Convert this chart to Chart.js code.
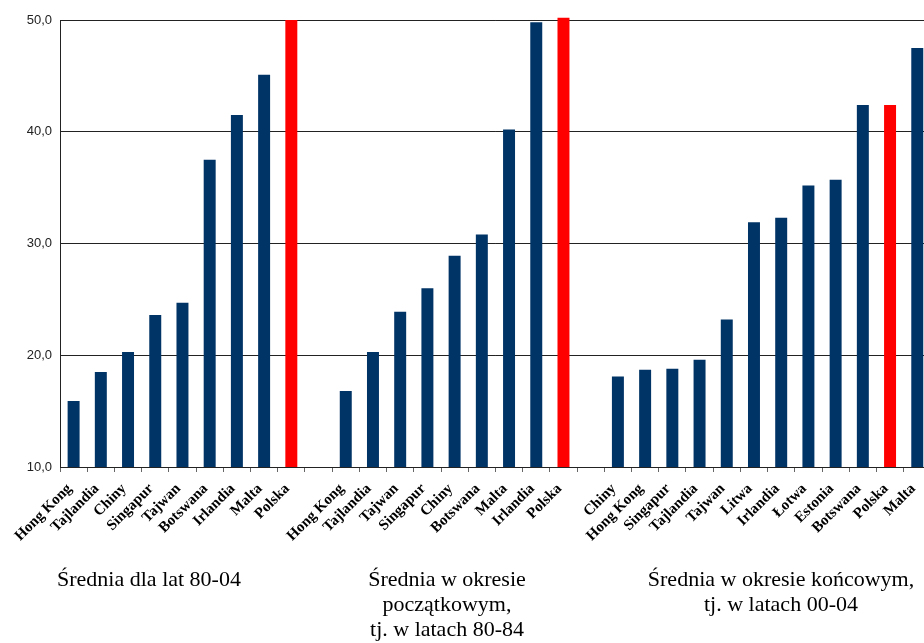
<!DOCTYPE html>
<html lang="pl">
<head>
<meta charset="utf-8">
<title>Średnie wartości – porównanie krajów</title>
<script src="https://cdn.jsdelivr.net/npm/chart.js@4/dist/chart.umd.min.js"></script>
<style>
  html, body { margin: 0; padding: 0; background: #fff; }
  #wrap { position: relative; width: 924px; height: 643px; overflow: hidden; }
  #chart { position: absolute; left: 0; top: 0; }
  .caption {
    position: absolute;
    font-family: "Liberation Serif", "Times New Roman", serif;
    font-size: 22px;
    line-height: 25px;
    color: #000;
    text-align: center;
    white-space: nowrap;
    transform: translateX(-50%);
  }
</style>
</head>
<body>
<div id="wrap">
  <canvas id="chart" width="938" height="643"></canvas>
  <div class="caption" style="left:149px; top:566px;">Średnia dla lat 80-04</div>
  <div class="caption" style="left:447px; top:566px;">Średnia w okresie<br>początkowym,<br>tj. w latach 80-84</div>
  <div class="caption" style="left:781px; top:566px;">Średnia w okresie końcowym,<br>tj. w latach 00-04</div>
</div>
<script>
// Średnia dla lat 80-04
const avgAllLabels = ['Hong Kong', 'Tajlandia', 'Chiny', 'Singapur', 'Tajwan', 'Botswana', 'Irlandia', 'Malta', 'Polska'];
const avgAllValues = [15.9, 18.5, 20.3, 23.6, 24.7, 37.5, 41.5, 45.1, 50.0];

// Średnia w okresie początkowym (80-84)
const avgStartLabels = ['Hong Kong', 'Tajlandia', 'Tajwan', 'Singapur', 'Chiny', 'Botswana', 'Malta', 'Irlandia', 'Polska'];
const avgStartValues = [16.8, 20.3, 23.9, 26.0, 28.9, 30.8, 40.2, 49.8, 50.2];

// Średnia w okresie końcowym (00-04)
const avgEndLabels = ['Chiny', 'Hong Kong', 'Singapur', 'Tajlandia', 'Tajwan', 'Litwa', 'Irlandia', 'Łotwa', 'Estonia', 'Botswana', 'Polska', 'Malta'];
const avgEndValues = [18.1, 18.7, 18.8, 19.6, 23.2, 31.9, 32.3, 35.2, 35.7, 42.4, 42.4, 47.5];

// Value axis
const yMin = 10;
const yMax = 50;
const yStep = 10;

// One category axis; an empty slot separates the three groups
const labels = [...avgAllLabels, '', ...avgStartLabels, '', ...avgEndLabels];
const values = [...avgAllValues, null, ...avgStartValues, null, ...avgEndValues];

const NAVY = '#003366';
const RED = '#ff0000';
const colors = labels.map(l => (l === 'Polska' ? RED : NAVY));

new Chart(document.getElementById('chart'), {
  type: 'bar',
  data: {
    labels: labels,
    datasets: [{
      data: values,
      backgroundColor: colors,
      borderWidth: 0,
      categoryPercentage: 1.0,
      barPercentage: 0.44,
      // let bars slightly above the top line stay visible, clip everything else
      clip: { left: 0, top: 4, right: 10, bottom: 0 }
    }]
  },
  options: {
    responsive: false,
    animation: false,
    events: [],
    layout: { padding: { top: 20, right: 0, left: 0, bottom: 0 } },
    plugins: {
      legend: { display: false },
      tooltip: { enabled: false }
    },
    scales: {
      x: {
        offset: true,
        grid: {
          offset: true,
          drawOnChartArea: false,
          drawTicks: true,
          tickLength: 5,
          color: '#666'
        },
        border: { display: true, color: '#222', width: 1 },
        ticks: {
          autoSkip: false,
          minRotation: 45,
          maxRotation: 45,
          padding: 8,
          labelOffset: -4,
          color: '#000',
          font: { family: '"Liberation Serif", "Times New Roman", serif', size: 15, weight: 'bold' }
        },
        afterFit: s => { s.height = 176; }
      },
      y: {
        min: yMin,
        max: yMax,
        ticks: {
          stepSize: yStep,
          padding: 8,
          color: '#222',
          font: { family: '"Liberation Sans", Arial, sans-serif', size: 13 },
          callback: v => v.toFixed(1).replace('.', ',')
        },
        grid: {
          color: '#222',
          lineWidth: 1,
          drawTicks: false
        },
        border: { display: true, color: '#222', width: 1 },
        afterFit: s => { s.width = 60; }
      }
    }
  }
});
</script>
</body>
</html>
